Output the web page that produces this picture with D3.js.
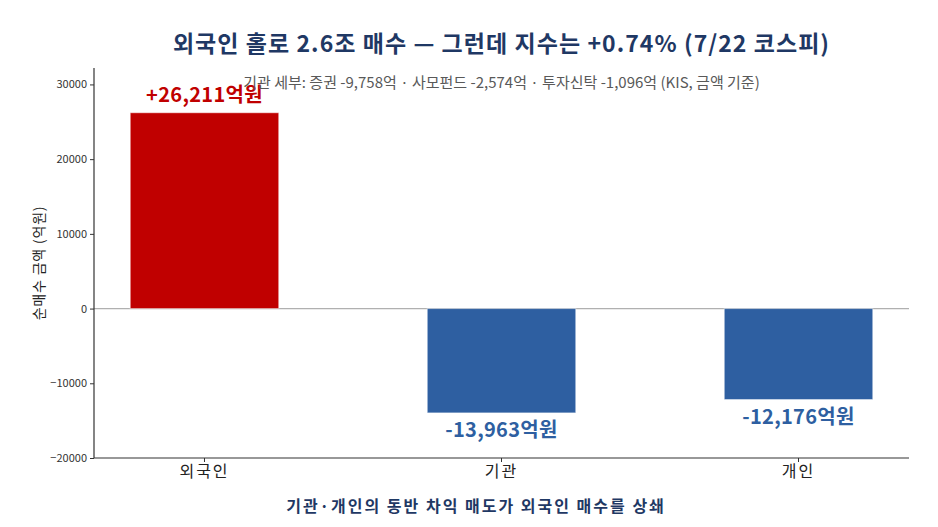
<!DOCTYPE html>
<html>
<head>
<meta charset="utf-8">
<script src="https://cdn.jsdelivr.net/npm/d3@7"></script>
<style>
  body { margin: 0; background: #fff; }
  svg text { font-family: "Noto Sans CJK KR", "Noto Sans", sans-serif; }
</style>
</head>
<body>
<div id="chart"></div>
<script>
// 7/22 코스피 투자자별 순매수 (억원)
const categories = ["외국인", "기관", "개인"]
const netBuy = [26211, -13963, -12176]
const barLabels = ["+26,211억원", "-13,963억원", "-12,176억원"]
const yTicks = [-20000, -10000, 0, 10000, 20000, 30000]

const titleText = "외국인 홀로 2.6조 매수 — 그런데 지수는 +0.74% (7/22 코스피)"
const subtitleText = "기관 세부: 증권 -9,758억 · 사모펀드 -2,574억 · 투자신탁 -1,096억 (KIS, 금액 기준)"
const xLabelText = "기관·개인의 동반 차익 매도가 외국인 매수를 상쇄"
const yLabelText = "순매수 금액 (억원)"

const width = 938, height = 527
const margin = { top: 68, right: 29, bottom: 69, left: 94 }

const svg = d3.select("#chart")
    .append("svg")
    .attr("width", width)
    .attr("height", height)

var xScale = d3.scaleBand()
    .domain(categories)
    .range([margin.left, width - margin.right])
    .paddingInner(0.5)
    .paddingOuter(0.122)

var yScale = d3.scaleLinear()
    .domain([-20000, 32200])
    .range([height - margin.bottom, margin.top])

// zero line
svg.append("line")
    .attr("x1", margin.left)
    .attr("x2", width - margin.right)
    .attr("y1", yScale(0))
    .attr("y2", yScale(0))
    .attr("stroke", "#b0b0b0")
    .attr("stroke-width", 1.2)

// bars
svg.selectAll(".bar")
    .data(netBuy)
    .enter()
    .append("rect")
    .attr("class", "bar")
    .attr("x", (d, i) => xScale(categories[i]))
    .attr("width", xScale.bandwidth())
    .attr("y", d => yScale(Math.max(0, d)))
    .attr("height", d => Math.abs(yScale(d) - yScale(0)))
    .attr("fill", d => d >= 0 ? "#c00000" : "#2e5fa1")
    .attr("stroke", "#ffffff")
    .attr("stroke-opacity", 0.5)
    .attr("stroke-width", 1)

// bar value labels
svg.selectAll(".barLabel")
    .data(netBuy)
    .enter()
    .append("text")
    .attr("class", "barLabel")
    .attr("x", (d, i) => xScale(categories[i]) + xScale.bandwidth() / 2)
    .attr("y", d => d >= 0 ? yScale(d) - 11 : yScale(d) + 24)
    .attr("text-anchor", "middle")
    .attr("font-size", 20)
    .attr("font-weight", "bold")
    .attr("letter-spacing", 0.3)
    .attr("fill", d => d >= 0 ? "#c00000" : "#2e5fa1")
    .text((d, i) => barLabels[i])

// axes
var yAxis = d3.axisLeft(yScale).tickValues(yTicks).tickFormat(d3.format("d")).tickSize(4).tickPadding(3)
var gy = svg.append("g")
    .attr("transform", "translate(" + margin.left + ",0)")
    .call(yAxis)
gy.selectAll("text").attr("font-size", 11).attr("fill", "#333")
gy.selectAll("line").attr("stroke", "#333")
gy.select(".domain").attr("stroke", "#333").attr("stroke-width", 1.2)
    .attr("d", "M0," + yScale.range()[0] + "V" + yScale.range()[1])

var xAxis = d3.axisBottom(xScale).tickSize(4).tickPadding(4)
var gx = svg.append("g")
    .attr("transform", "translate(0," + (height - margin.bottom) + ")")
    .call(xAxis)
gx.selectAll("text").attr("font-size", 16).attr("letter-spacing", 2).attr("fill", "#222")
gx.selectAll("line").attr("stroke", "#333")
gx.select(".domain").attr("stroke", "#333").attr("stroke-width", 1.2)
    .attr("d", "M" + margin.left + ",0H" + (width - margin.right))

// titles
svg.append("text")
    .attr("x", (margin.left + width - margin.right) / 2)
    .attr("y", 52)
    .attr("text-anchor", "middle")
    .attr("font-size", 23)
    .attr("font-weight", "bold")
    .attr("letter-spacing", 1.05)
    .attr("fill", "#1f3864")
    .text(titleText)

svg.append("text")
    .attr("x", (margin.left + width - margin.right) / 2)
    .attr("y", 88)
    .attr("text-anchor", "middle")
    .attr("font-size", 15)
    .attr("fill", "#595959")
    .text(subtitleText)

svg.append("text")
    .attr("x", 476)
    .attr("y", 512)
    .attr("text-anchor", "middle")
    .attr("font-size", 16)
    .attr("font-weight", "bold")
    .attr("letter-spacing", 2)
    .attr("fill", "#1f3864")
    .text(xLabelText)

svg.append("text")
    .attr("transform", "translate(44," + ((margin.top + height - margin.bottom) / 2) + ") rotate(-90)")
    .attr("text-anchor", "middle")
    .attr("font-size", 14)
    .attr("letter-spacing", 0.8)
    .attr("fill", "#222")
    .text(yLabelText)
</script>
</body>
</html>
